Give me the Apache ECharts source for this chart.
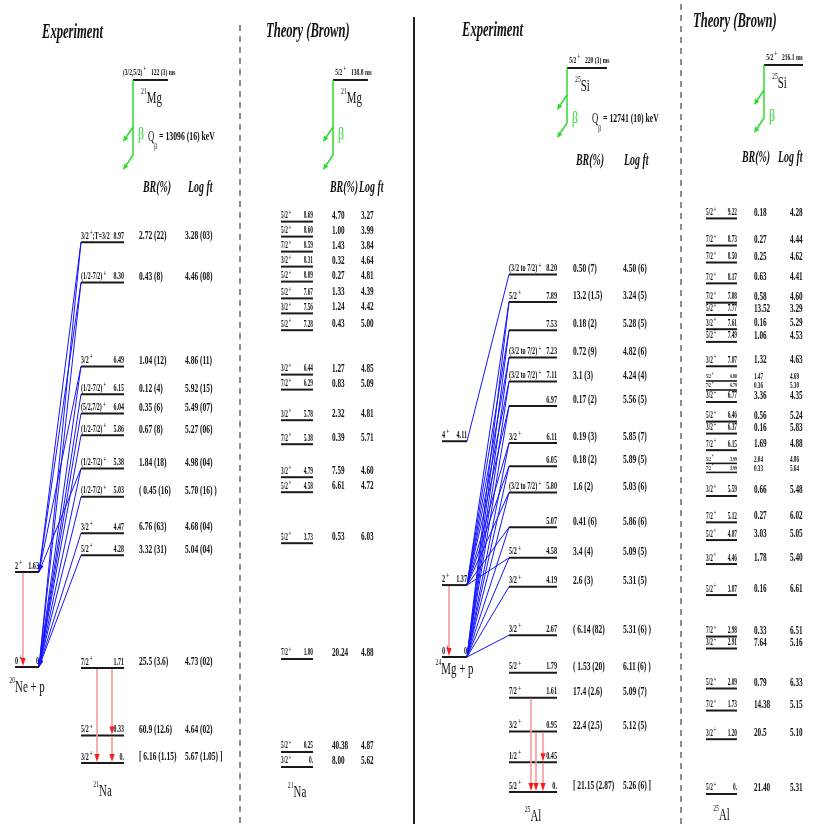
<!DOCTYPE html>
<html>
<head>
<meta charset="utf-8">
<script src="https://cdn.jsdelivr.net/npm/echarts@6/dist/echarts.min.js"></script>
<style>
  html, body { margin: 0; padding: 0; background: #fff; }
  #main { width: 818px; height: 824px; }
</style>
</head>
<body>
<div id="main"></div>
<script>
// ---------- 21Mg beta decay to 21Na: experiment ----------
const na21ExpE = [0, 0.33, 1.71, 4.28, 4.47, 5.03, 5.38, 5.86, 6.04, 6.15, 6.49, 8.30, 8.97];
const na21ExpJ = ['3/2+', '5/2+', '7/2+', '5/2+', '3/2+', '(1/2-7/2)+', '(1/2-7/2)+', '(1/2-7/2)+',
                  '(5/2,7/2)+', '(1/2-7/2)+', '3/2+', '(1/2-7/2)+', '3/2+;T=3/2'];
const na21ExpBR = ['[ 6.16 (1.15)', '60.9 (12.6)', '25.5 (3.6)', '3.32 (31)', '6.76 (63)', '( 0.45 (16)',
                   '1.84 (18)', '0.67 (8)', '0.35 (6)', '0.12 (4)', '1.04 (12)', '0.43 (8)', '2.72 (22)'];
const na21ExpLogft = ['5.67 (1.05) ]', '4.64 (02)', '4.73 (02)', '5.04 (04)', '4.68 (04)', '5.70 (16) )',
                      '4.98 (04)', '5.27 (06)', '5.49 (07)', '5.92 (15)', '4.86 (11)', '4.46 (08)', '3.28 (03)'];
const na21ExpGammas = [[2, 0], [2, 1], [1, 0]];          // [from level, to level]
const ne20pE = [0, 1.63];
const ne20pJ = ['0+', '2+'];
const ne20pFeeds = [[0, 3], [0, 4], [0, 5], [0, 6], [0, 7], [0, 8], [0, 9], [0, 10], [0, 11], [0, 12],
                    [1, 6], [1, 10], [1, 11], [1, 12]];  // [20Ne level, 21Na level]
const ne20pGammas = [[1, 0]];

// ---------- 21Mg beta decay to 21Na: shell model ----------
const na21TheoE = [0, 0.25, 1.80, 3.73, 4.58, 4.79, 5.38, 5.78, 6.29, 6.44, 7.28, 7.56, 7.67, 8.09, 8.31, 8.59, 8.60, 8.69];
const na21TheoJ = ['3/2+', '5/2+', '7/2+', '5/2+', '5/2+', '3/2+', '7/2+', '3/2+', '7/2+', '3/2+', '5/2+', '3/2+',
                   '5/2+', '5/2+', '3/2+', '7/2+', '5/2+', '5/2+'];
const na21TheoBR = ['8.00', '40.38', '20.24', '0.53', '6.61', '7.59', '0.39', '2.32', '0.83', '1.27', '0.43', '1.24',
                    '1.33', '0.27', '0.32', '1.43', '1.00', '4.70'];
const na21TheoLogft = ['5.62', '4.87', '4.88', '6.03', '4.72', '4.60', '5.71', '4.81', '5.09', '4.85', '5.00', '4.42',
                       '4.39', '4.81', '4.64', '3.84', '3.99', '3.27'];

// ---------- 25Si beta decay to 25Al: experiment ----------
const al25ExpE = [0, 0.45, 0.95, 1.61, 1.79, 2.67, 4.19, 4.58, 5.07, 5.80, 6.05, 6.11, 6.97, 7.11, 7.23, 7.53, 7.89, 8.20];
const al25ExpJ = ['5/2+', '1/2+', '3/2+', '7/2+', '5/2+', '3/2+', '3/2+', '5/2+', '', '(3/2 to 7/2)+', '', '3/2+', '',
                  '(3/2 to 7/2)+', '(3/2 to 7/2)+', '', '5/2+', '(3/2 to 7/2)+'];
const al25ExpBR = ['[ 21.15 (2.87)', '', '22.4 (2.5)', '17.4 (2.6)', '( 1.53 (20)', '( 6.14 (82)', '2.6 (3)', '3.4 (4)',
                   '0.41 (6)', '1.6 (2)', '0.18 (2)', '0.19 (3)', '0.17 (2)', '3.1 (3)', '0.72 (9)', '0.18 (2)',
                   '13.2 (1.5)', '0.50 (7)'];
const al25ExpLogft = ['5.26 (6) ]', '', '5.12 (5)', '5.09 (7)', '6.11 (6) )', '5.31 (6) )', '5.31 (5)', '5.09 (5)',
                      '5.86 (6)', '5.03 (6)', '5.89 (5)', '5.85 (7)', '5.56 (5)', '4.24 (4)', '4.82 (6)', '5.28 (5)',
                      '3.24 (5)', '4.50 (6)'];
const al25ExpGammas = [[3, 0], [2, 0], [2, 1], [1, 0]];
const mg24pE = [0, 1.37, 4.11];
const mg24pJ = ['0+', '2+', '4+'];
const mg24pFeeds = [[2, 17],
                    [0, 5], [0, 6], [0, 7], [0, 8], [0, 9], [0, 10], [0, 11], [0, 12], [0, 13], [0, 14], [0, 15], [0, 16],
                    [1, 7], [1, 8], [1, 9], [1, 10], [1, 11], [1, 12], [1, 13], [1, 14], [1, 15], [1, 16]];
const mg24pGammas = [[1, 0]];

// ---------- 25Si beta decay to 25Al: shell model ----------
const al25TheoE = [0, 1.20, 1.73, 2.09, 2.91, 2.98, 3.87, 4.46, 4.87, 5.12, 5.59, 5.99, 5.99, 6.15, 6.37, 6.46, 6.77,
                   6.79, 6.80, 7.07, 7.49, 7.61, 7.77, 7.88, 8.17, 8.50, 8.73, 9.22];
const al25TheoJ = ['5/2+', '3/2+', '7/2+', '5/2+', '3/2+', '7/2+', '5/2+', '3/2+', '5/2+', '7/2+', '3/2+', '7/2+', '5/2+',
                   '7/2+', '3/2+', '5/2+', '3/2+', '7/2+', '5/2+', '3/2+', '5/2+', '3/2+', '5/2+', '7/2+', '7/2+', '7/2+',
                   '7/2+', '5/2+'];
const al25TheoBR = ['21.40', '20.5', '14.38', '0.79', '7.64', '0.33', '0.16', '1.78', '3.03', '0.27', '0.66', '0.33', '2.04',
                    '1.69', '0.16', '0.56', '3.36', '0.36', '1.47', '1.32', '1.06', '0.16', '13.52', '0.58', '0.63', '0.25',
                    '0.27', '0.18'];
const al25TheoLogft = ['5.31', '5.10', '5.15', '6.33', '5.16', '6.51', '6.61', '5.40', '5.05', '6.02', '5.48', '5.64', '4.86',
                       '4.88', '5.83', '5.24', '4.35', '5.30', '4.69', '4.63', '4.53', '5.29', '3.29', '4.60', '4.41', '4.62',
                       '4.44', '4.28'];
const al25TheoCompact = al25TheoE.map((e, i) => i === 11 || i === 12 || i === 17 || i === 18);

// ---------- parents ----------
const panelTitles = ['Experiment', 'Theory (Brown)', 'Experiment', 'Theory (Brown)'];
const parentSpin = ['(3/2,5/2)+', '5/2+', '5/2+', '5/2+'];
const parentHalfLife = ['122 (3) ms', '138.8 ms', '220 (3) ms', '216.1 ms'];
const parentNucleus = [['21', 'Mg'], ['21', 'Mg'], ['25', 'Si'], ['25', 'Si']];
const parentQ = ['13096 (16) keV', null, '12741 (10) keV', null];

// ---------- layout ----------
const H = 824;
const SERIF = '"Liberation Serif", "Times New Roman", serif';
const GREEN = '#2fd92f';

const panels = [
  { left: 0, width: 240, base: 763, pxPerMeV: 38, slotPx: 15, gapPx: 0,
    levels: { E: na21ExpE, J: na21ExpJ, BR: na21ExpBR, LF: na21ExpLogft, x0: 81, x1: 124, brX: 139, lfX: 185,
              fsLabel: 10, sxLabel: 0.6, fsVal: 12.5, sxVal: 0.6, nucleus: ['21', 'Na'], nucDy: 29,
              gammas: na21ExpGammas, gammaX: [97, 112, 112] },
    core: { E: ne20pE, J: ne20pJ, x0: 15, x1: 39, zero: 2.526, stretch: 1.534, nucleus: ['20', 'Ne + p'], nucDy: 21,
            feeds: ne20pFeeds, feedArrow: true, gammas: ne20pGammas, gammaX: [23] } },
  { left: 240, width: 174, base: 767, pxPerMeV: 60, slotPx: 0, gapPx: 15,
    levels: { E: na21TheoE, J: na21TheoJ, BR: na21TheoBR, LF: na21TheoLogft, x0: 41, x1: 73, brX: 92, lfX: 121,
              fsLabel: 9.5, sxLabel: 0.56, fsVal: 12, sxVal: 0.6, nucleus: ['21', 'Na'], nucDy: 26 } },
  { left: 414, width: 268, base: 792, pxPerMeV: 17.5, slotPx: 22, gapPx: 0,
    levels: { E: al25ExpE, J: al25ExpJ, BR: al25ExpBR, LF: al25ExpLogft, x0: 95, x1: 143, brX: 159, lfX: 209,
              fsLabel: 10, sxLabel: 0.62, fsVal: 12.5, sxVal: 0.6, nucleus: ['25', 'Al'], nucDy: 25,
              gammas: al25ExpGammas, gammaX: [117, 122, 129, 129] },
    core: { E: mg24pE, J: mg24pJ, x0: 28, x1: 53, zero: 7.714, stretch: 3.0, nucleus: ['24', 'Mg + p'], nucDy: 13,
            feeds: mg24pFeeds, feedArrow: false, gammas: mg24pGammas, gammaX: [35] } },
  { left: 682, width: 136, base: 794, pxPerMeV: 39, slotPx: 8, gapPx: 12, compactGapPx: 9,
    levels: { E: al25TheoE, J: al25TheoJ, BR: al25TheoBR, LF: al25TheoLogft, x0: 24, x1: 55, brX: 72, lfX: 108,
              fsLabel: 9.5, sxLabel: 0.56, fsVal: 12, sxVal: 0.6, fsLabelSmall: 7, fsValSmall: 8.5,
              compact: al25TheoCompact, nucleus: ['25', 'Al'], nucDy: 22 } }
];

const headerLayout = [
  { title: [42, 33], lx0: 133, lx1: 168, ly: 80, betaLen: 75, betaY: 135, q: [148, 137], br: [143, 188], lf: [188, 188] },
  { title: [266, 32], lx0: 333, lx1: 368, ly: 80, betaLen: 75, betaY: 135, br: [330, 188], lf: [359, 188] },
  { title: [462, 31], lx0: 567, lx1: 607, ly: 68, betaLen: 55, betaY: 119, q: [592, 119], br: [576, 161], lf: [624, 161] },
  { title: [693, 22], lx0: 764, lx1: 803, ly: 65, betaLen: 53, betaY: 117, br: [742, 158], lf: [778, 158] }
];

// ---------- text helpers (condensed Times-like runs) ----------
const measureCtx = document.createElement('canvas').getContext('2d');
function fontOf(p) {
  return (p.it ? 'italic ' : '') + (p.bold === false ? 'normal ' : 'bold ') + p.fs + 'px ' + SERIF;
}
function measure(p) { measureCtx.font = fontOf(p); return measureCtx.measureText(p.t).width; }
function textRun(x, y, parts, opt) {
  opt = opt || {};
  const sx = opt.sx || 0.62;
  const va = opt.va || 'middle';
  const w = parts.map(p => measure(p) * sx);
  const total = w.reduce((a, b) => a + b, 0);
  let cx = opt.align === 'right' ? x - total : (opt.align === 'center' ? x - total / 2 : x);
  return parts.map((p, i) => {
    const el = {
      type: 'text', x: cx, y: y + (p.dy || 0), scaleX: sx, silent: true,
      style: { text: p.t, font: fontOf(p), fill: p.fill || '#111',
               align: 'left', verticalAlign: va, textAlign: 'left', textVerticalAlign: va }
    };
    cx += w[i];
    return el;
  });
}
function spinParts(j, fs) {
  const parts = [];
  if (!j) return parts;
  const segs = j.split('+');
  segs.forEach((s, i) => {
    if (s) parts.push({ t: s, fs: fs });
    if (i < segs.length - 1) parts.push({ t: ' +', fs: fs * 0.8, dy: -fs * 0.4 });
  });
  return parts;
}
function energyText(e) { return e === 0 ? '0.' : e.toFixed(2); }
function nucleusRun(x, y, nuc) {
  return textRun(x, y, [{ t: nuc[0], fs: 9, bold: false, dy: -7 }, { t: nuc[1], fs: 17, bold: false }],
                 { align: 'center', sx: 0.64 });
}

// Levels sit at their energy; a fixed slot per level and a minimum gap keep the labels apart.
function spread(E, p, compact) {
  const slot = (p.slotPx || 0) / p.pxPerMeV;
  const out = [];
  E.forEach((e, k) => {
    let d = e + slot * k;
    if (k > 0) {
      const tight = compact && compact[k] && compact[k - 1];
      const gap = (tight ? p.compactGapPx : (p.gapPx || 0)) / p.pxPerMeV;
      d = Math.max(d, out[k - 1] + gap);
    }
    out.push(d);
  });
  return out;
}

function baseSeries(pi, z) {
  return { type: 'custom', coordinateSystem: 'cartesian2d', xAxisIndex: pi, yAxisIndex: pi,
           silent: true, animation: false, clip: false, z: z };
}

function levelSeries(pi, c) {
  return Object.assign(baseSeries(pi, 3), {
    data: c.disp.map((d, i) => [c.x0, d, i]),
    renderItem(params, api) {
      const i = api.value(2), d = api.value(1);
      const pa = api.coord([c.x0, d]);
      const xb = api.coord([c.x1, d])[0];
      const y = pa[1];
      const small = c.compact && c.compact[i];
      const fl = small ? c.fsLabelSmall : c.fsLabel;
      const fv = small ? c.fsValSmall : c.fsVal;
      const kids = [{ type: 'line', shape: { x1: pa[0], y1: y, x2: xb, y2: y },
                      style: { stroke: '#1a1a1a', lineWidth: small ? 1.6 : 2 } }];
      kids.push(...textRun(pa[0], y - 1, spinParts(c.J[i], fl), { va: 'bottom', sx: c.sxLabel }));
      kids.push(...textRun(xb, y - 1, [{ t: energyText(c.E[i]), fs: fl }], { va: 'bottom', align: 'right', sx: c.sxLabel }));
      const vy = y - (small ? 4 : 6);
      if (c.BR[i]) kids.push(...textRun(api.coord([c.brX, d])[0], vy, [{ t: c.BR[i], fs: fv }], { sx: c.sxVal }));
      if (c.LF[i]) kids.push(...textRun(api.coord([c.lfX, d])[0], vy, [{ t: c.LF[i], fs: fv }], { sx: c.sxVal }));
      if (i === 0) kids.push(...nucleusRun((pa[0] + xb) / 2, y + c.nucDy, c.nucleus));
      return { type: 'group', children: kids };
    }
  });
}

function coreSeries(pi, c) {
  return Object.assign(baseSeries(pi, 3), {
    data: c.disp.map((d, i) => [c.x0, d, i]),
    renderItem(params, api) {
      const i = api.value(2), d = api.value(1);
      const pa = api.coord([c.x0, d]);
      const xb = api.coord([c.x1, d])[0];
      const y = pa[1];
      const kids = [{ type: 'line', shape: { x1: pa[0], y1: y, x2: xb, y2: y }, style: { stroke: '#1a1a1a', lineWidth: 2 } }];
      kids.push(...textRun(pa[0], y - 1, spinParts(c.J[i], 10), { va: 'bottom', sx: 0.62 }));
      kids.push(...textRun(xb, y - 1, [{ t: c.E[i] === 0 ? '0' : c.E[i].toFixed(2), fs: 10 }],
                           { va: 'bottom', align: 'right', sx: 0.62 }));
      if (i === 0) kids.push(...nucleusRun((pa[0] + xb) / 2, y + c.nucDy, c.nucleus));
      return { type: 'group', children: kids };
    }
  });
}

function feedSeries(pi, core, lev) {
  return Object.assign(baseSeries(pi, 2), {
    data: core.feeds.map(f => [core.x1, core.disp[f[0]], lev.x0, lev.disp[f[1]]]),
    renderItem(params, api) {
      const a = api.coord([api.value(0), api.value(1)]);
      const b = api.coord([api.value(2), api.value(3)]);
      const kids = [{ type: 'line', shape: { x1: b[0], y1: b[1], x2: a[0], y2: a[1] },
                      style: { stroke: '#1414ff', lineWidth: 1 } }];
      if (core.feedArrow) {
        const dx = a[0] - b[0], dy = a[1] - b[1], L = Math.hypot(dx, dy);
        const ux = dx / L, uy = dy / L, nx = -uy, ny = ux;
        const bx = a[0] - ux * 7, by = a[1] - uy * 7;
        kids.push({ type: 'polygon', shape: { points: [[a[0], a[1]], [bx + nx * 2, by + ny * 2], [bx - nx * 2, by - ny * 2]] },
                    style: { fill: '#1414ff' } });
      }
      return { type: 'group', children: kids };
    }
  });
}

function gammaSeries(pi, col) {
  return Object.assign(baseSeries(pi, 4), {
    data: col.gammas.map((g, k) => [col.gammaX[k], col.disp[g[0]], col.disp[g[1]]]),
    renderItem(params, api) {
      const a = api.coord([api.value(0), api.value(1)]);
      const b = api.coord([api.value(0), api.value(2)]);
      const tip = b[1] - 1;
      return { type: 'group', children: [
        { type: 'line', shape: { x1: a[0], y1: a[1] + 1, x2: b[0], y2: tip - 5 }, style: { stroke: '#f59a9a', lineWidth: 1.6 } },
        { type: 'polygon', shape: { points: [[b[0] - 2.6, tip - 8], [b[0] + 2.6, tip - 8], [b[0], tip]] },
          style: { fill: '#ff1a1a' } }
      ] };
    }
  });
}

// ---------- header: titles, parent states, beta branches, separators ----------
function arrowEls(x, y, color) {
  const ex = x - 10, ey = y + 15;
  const L = Math.hypot(10, 15), ux = -10 / L, uy = 15 / L, nx = -uy, ny = ux;
  const bx = ex - ux * 6, by = ey - uy * 6;
  return [
    { type: 'line', shape: { x1: x, y1: y, x2: bx, y2: by }, style: { stroke: color, lineWidth: 1.5 } },
    { type: 'polygon', shape: { points: [[ex, ey], [bx + nx * 2.5, by + ny * 2.5], [bx - nx * 2.5, by - ny * 2.5]] },
      style: { fill: color } }
  ];
}
function buildHeader() {
  const els = [];
  headerLayout.forEach((h, k) => {
    els.push(...textRun(h.title[0], h.title[1], [{ t: panelTitles[k], fs: 20, it: true }], { sx: 0.63 }));
    els.push({ type: 'line', shape: { x1: h.lx0, y1: h.ly, x2: h.lx1, y2: h.ly }, style: { stroke: '#1a1a1a', lineWidth: 1.8 } });
    els.push(...textRun(h.lx0 + 13, h.ly - 7, spinParts(parentSpin[k], 9), { align: 'right' }));
    els.push(...textRun(h.lx0 + 18, h.ly - 7, [{ t: parentHalfLife[k], fs: 9 }]));
    els.push(...textRun(h.lx0 + 8, h.ly + 19,
      [{ t: parentNucleus[k][0], fs: 9, bold: false, dy: -7 }, { t: parentNucleus[k][1], fs: 17, bold: false }], { sx: 0.64 }));
    const yb = h.ly + h.betaLen;
    els.push({ type: 'line', shape: { x1: h.lx0, y1: h.ly, x2: h.lx0, y2: yb }, style: { stroke: GREEN, lineWidth: 1.5 } });
    els.push(...arrowEls(h.lx0, yb - 28, GREEN));
    els.push(...arrowEls(h.lx0, yb, GREEN));
    els.push(...textRun(h.lx0 + 5, h.betaY, [{ t: 'β', fs: 17, bold: false, fill: GREEN }], { sx: 0.7 }));
    if (parentQ[k]) {
      els.push(...textRun(h.q[0], h.q[1], [{ t: 'Q', fs: 14, bold: false }, { t: 'β', fs: 9, bold: false, dy: 10 },
                                           { t: ' = ' + parentQ[k], fs: 12.5 }]));
    }
    els.push(...textRun(h.br[0], h.br[1], [{ t: 'BR(%)', fs: 16, it: true }]));
    els.push(...textRun(h.lf[0], h.lf[1], [{ t: 'Log ft', fs: 16, it: true }]));
  });
  els.push({ type: 'line', shape: { x1: 240, y1: 25, x2: 240, y2: H }, style: { stroke: '#444', lineWidth: 1.2, lineDash: [6, 5] } });
  els.push({ type: 'line', shape: { x1: 414, y1: 17, x2: 414, y2: H }, style: { stroke: '#222', lineWidth: 2 } });
  els.push({ type: 'line', shape: { x1: 681, y1: 4, x2: 681, y2: H }, style: { stroke: '#444', lineWidth: 1.2, lineDash: [6, 5] } });
  return els;
}

// ---------- assemble ----------
const series = [];
panels.forEach((p, pi) => {
  const lev = p.levels;
  lev.disp = spread(lev.E, p, lev.compact);
  if (p.core) {
    const c = p.core;
    c.disp = c.E.map(e => c.zero + c.stretch * e);
    series.push(feedSeries(pi, c, lev));
    series.push(coreSeries(pi, c));
    series.push(gammaSeries(pi, c));
  }
  series.push(levelSeries(pi, lev));
  if (lev.gammas) series.push(gammaSeries(pi, lev));
});

const chart = echarts.init(document.getElementById('main'), null, { renderer: 'canvas' });
chart.setOption({
  backgroundColor: '#ffffff',
  animation: false,
  grid: panels.map(p => ({ left: p.left, top: 0, width: p.width, height: H })),
  xAxis: panels.map((p, i) => ({ type: 'value', gridIndex: i, min: 0, max: p.width, show: false })),
  yAxis: panels.map((p, i) => ({ type: 'value', gridIndex: i, min: -(H - p.base) / p.pxPerMeV, max: p.base / p.pxPerMeV, show: false })),
  graphic: { elements: buildHeader() },
  series: series
});
</script>
</body>
</html>
